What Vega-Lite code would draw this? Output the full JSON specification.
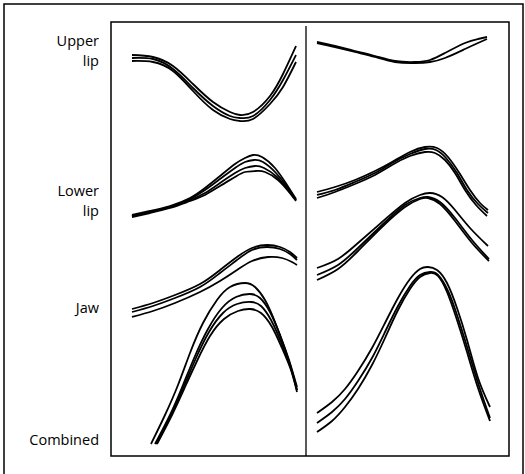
{
  "$schema": "https://vega.github.io/schema/vega-lite/v6.json",
  "width": 521,
  "height": 470,
  "autosize": "none",
  "padding": {"left": 4, "top": 4, "right": 0, "bottom": 0},
  "background": "white",
  "config": {"view": {"stroke": null}},
  "datasets": {
    "frames": [
      {"box": "outer", "t": -107, "t2": 412, "d": 452, "d2": -30},
      {"box": "inner", "t": 0, "t2": 398, "d": 434, "d2": 0}
    ],
    "divider": [{"t": 195, "d": 0, "d2": 430}],
    "labels": [
      {"label": "Upper", "t": -12, "d": 414},
      {"label": "lip", "t": -12, "d": 394},
      {"label": "Lower", "t": -12, "d": 264},
      {"label": "lip", "t": -12, "d": 244},
      {"label": "Jaw", "t": -12, "d": 147},
      {"label": "Combined", "t": -12, "d": 15}
    ],
    "curves": [
      {"c":"LU1","t":21,"d":401},{"c":"LU1","t":42,"d":399},{"c":"LU1","t":62,"d":390},{"c":"LU1","t":82,"d":372},{"c":"LU1","t":102,"d":354},{"c":"LU1","t":119,"d":344},{"c":"LU1","t":129,"d":341},{"c":"LU1","t":142,"d":344},{"c":"LU1","t":159,"d":360},{"c":"LU1","t":172,"d":382},{"c":"LU1","t":185,"d":410},
      {"c":"LU2","t":21,"d":398},{"c":"LU2","t":42,"d":397},{"c":"LU2","t":62,"d":387},{"c":"LU2","t":82,"d":368},{"c":"LU2","t":102,"d":350},{"c":"LU2","t":119,"d":340},{"c":"LU2","t":129,"d":338},{"c":"LU2","t":142,"d":340},{"c":"LU2","t":159,"d":356},{"c":"LU2","t":172,"d":376},{"c":"LU2","t":185,"d":401},
      {"c":"LU3","t":21,"d":395},{"c":"LU3","t":42,"d":394},{"c":"LU3","t":62,"d":385},{"c":"LU3","t":82,"d":365},{"c":"LU3","t":102,"d":346},{"c":"LU3","t":119,"d":337},{"c":"LU3","t":129,"d":335},{"c":"LU3","t":142,"d":337},{"c":"LU3","t":159,"d":352},{"c":"LU3","t":172,"d":369},{"c":"LU3","t":185,"d":394},
      {"c":"LL1","t":21,"d":241},{"c":"LL1","t":39,"d":245},{"c":"LL1","t":59,"d":250},{"c":"LL1","t":79,"d":258},{"c":"LL1","t":94,"d":268},{"c":"LL1","t":109,"d":280},{"c":"LL1","t":124,"d":292},{"c":"LL1","t":134,"d":298},{"c":"LL1","t":142,"d":301},{"c":"LL1","t":151,"d":299},{"c":"LL1","t":164,"d":288},{"c":"LL1","t":176,"d":271},{"c":"LL1","t":185,"d":257},
      {"c":"LL2","t":21,"d":240},{"c":"LL2","t":39,"d":244},{"c":"LL2","t":59,"d":249},{"c":"LL2","t":79,"d":257},{"c":"LL2","t":94,"d":266},{"c":"LL2","t":109,"d":277},{"c":"LL2","t":124,"d":288},{"c":"LL2","t":134,"d":294},{"c":"LL2","t":143,"d":296},{"c":"LL2","t":152,"d":294},{"c":"LL2","t":165,"d":283},{"c":"LL2","t":177,"d":268},{"c":"LL2","t":185,"d":256},
      {"c":"LL3","t":21,"d":240},{"c":"LL3","t":39,"d":244},{"c":"LL3","t":59,"d":249},{"c":"LL3","t":79,"d":256},{"c":"LL3","t":94,"d":263},{"c":"LL3","t":109,"d":273},{"c":"LL3","t":124,"d":283},{"c":"LL3","t":134,"d":288},{"c":"LL3","t":144,"d":290},{"c":"LL3","t":153,"d":288},{"c":"LL3","t":166,"d":279},{"c":"LL3","t":177,"d":266},{"c":"LL3","t":185,"d":256},
      {"c":"LL4","t":21,"d":239},{"c":"LL4","t":39,"d":243},{"c":"LL4","t":59,"d":248},{"c":"LL4","t":79,"d":255},{"c":"LL4","t":94,"d":261},{"c":"LL4","t":109,"d":270},{"c":"LL4","t":124,"d":279},{"c":"LL4","t":134,"d":284},{"c":"LL4","t":145,"d":285},{"c":"LL4","t":154,"d":284},{"c":"LL4","t":167,"d":276},{"c":"LL4","t":178,"d":264},{"c":"LL4","t":185,"d":255},
      {"c":"LJ1","t":21,"d":147},{"c":"LJ1","t":42,"d":153},{"c":"LJ1","t":64,"d":161},{"c":"LJ1","t":89,"d":172},{"c":"LJ1","t":109,"d":186},{"c":"LJ1","t":126,"d":199},{"c":"LJ1","t":141,"d":208},{"c":"LJ1","t":156,"d":211},{"c":"LJ1","t":169,"d":209},{"c":"LJ1","t":179,"d":204},{"c":"LJ1","t":186,"d":198},
      {"c":"LJ2","t":21,"d":144},{"c":"LJ2","t":42,"d":150},{"c":"LJ2","t":64,"d":158},{"c":"LJ2","t":89,"d":169},{"c":"LJ2","t":109,"d":183},{"c":"LJ2","t":126,"d":196},{"c":"LJ2","t":141,"d":206},{"c":"LJ2","t":156,"d":209},{"c":"LJ2","t":169,"d":207},{"c":"LJ2","t":179,"d":202},{"c":"LJ2","t":186,"d":196},
      {"c":"LJ3","t":21,"d":139},{"c":"LJ3","t":42,"d":145},{"c":"LJ3","t":64,"d":153},{"c":"LJ3","t":89,"d":164},{"c":"LJ3","t":109,"d":175},{"c":"LJ3","t":126,"d":186},{"c":"LJ3","t":141,"d":195},{"c":"LJ3","t":157,"d":199},{"c":"LJ3","t":171,"d":198},{"c":"LJ3","t":181,"d":194},{"c":"LJ3","t":186,"d":191},
      {"c":"LC1","t":40,"d":12},{"c":"LC1","t":54,"d":41},{"c":"LC1","t":67,"d":71},{"c":"LC1","t":79,"d":103},{"c":"LC1","t":92,"d":133},{"c":"LC1","t":106,"d":156},{"c":"LC1","t":119,"d":169},{"c":"LC1","t":134,"d":173},{"c":"LC1","t":144,"d":169},{"c":"LC1","t":154,"d":156},{"c":"LC1","t":164,"d":134},{"c":"LC1","t":174,"d":107},{"c":"LC1","t":181,"d":85},{"c":"LC1","t":186,"d":66},
      {"c":"LC2","t":44,"d":12},{"c":"LC2","t":59,"d":41},{"c":"LC2","t":72,"d":71},{"c":"LC2","t":84,"d":100},{"c":"LC2","t":97,"d":127},{"c":"LC2","t":111,"d":148},{"c":"LC2","t":125,"d":159},{"c":"LC2","t":139,"d":162},{"c":"LC2","t":149,"d":158},{"c":"LC2","t":159,"d":144},{"c":"LC2","t":169,"d":121},{"c":"LC2","t":178,"d":96},{"c":"LC2","t":186,"d":69},
      {"c":"LC3","t":45,"d":12},{"c":"LC3","t":60,"d":41},{"c":"LC3","t":73,"d":70},{"c":"LC3","t":85,"d":98},{"c":"LC3","t":98,"d":124},{"c":"LC3","t":112,"d":143},{"c":"LC3","t":126,"d":152},{"c":"LC3","t":140,"d":154},{"c":"LC3","t":150,"d":150},{"c":"LC3","t":160,"d":136},{"c":"LC3","t":170,"d":114},{"c":"LC3","t":179,"d":90},{"c":"LC3","t":186,"d":66},
      {"c":"LC4","t":46,"d":12},{"c":"LC4","t":61,"d":41},{"c":"LC4","t":74,"d":69},{"c":"LC4","t":86,"d":95},{"c":"LC4","t":99,"d":120},{"c":"LC4","t":113,"d":137},{"c":"LC4","t":127,"d":145},{"c":"LC4","t":139,"d":147},{"c":"LC4","t":150,"d":143},{"c":"LC4","t":161,"d":129},{"c":"LC4","t":171,"d":108},{"c":"LC4","t":180,"d":86},{"c":"LC4","t":186,"d":64},
      {"c":"RU1","t":206,"d":414},{"c":"RU1","t":224,"d":410},{"c":"RU1","t":244,"d":405},{"c":"RU1","t":264,"d":400},{"c":"RU1","t":284,"d":395},{"c":"RU1","t":304,"d":394},{"c":"RU1","t":319,"d":396},{"c":"RU1","t":334,"d":403},{"c":"RU1","t":354,"d":413},{"c":"RU1","t":367,"d":417},{"c":"RU1","t":376,"d":419},
      {"c":"RU2","t":206,"d":413},{"c":"RU2","t":224,"d":409},{"c":"RU2","t":244,"d":404},{"c":"RU2","t":264,"d":399},{"c":"RU2","t":284,"d":394},{"c":"RU2","t":304,"d":393},{"c":"RU2","t":319,"d":394},{"c":"RU2","t":334,"d":398},{"c":"RU2","t":354,"d":407},{"c":"RU2","t":367,"d":413},{"c":"RU2","t":376,"d":417},
      {"c":"RL1","t":206,"d":264},{"c":"RL1","t":224,"d":269},{"c":"RL1","t":244,"d":276},{"c":"RL1","t":264,"d":285},{"c":"RL1","t":281,"d":294},{"c":"RL1","t":299,"d":304},{"c":"RL1","t":314,"d":309},{"c":"RL1","t":326,"d":308},{"c":"RL1","t":337,"d":299},{"c":"RL1","t":349,"d":282},{"c":"RL1","t":359,"d":266},{"c":"RL1","t":369,"d":253},{"c":"RL1","t":377,"d":246},
      {"c":"RL2","t":206,"d":258},{"c":"RL2","t":224,"d":264},{"c":"RL2","t":244,"d":272},{"c":"RL2","t":264,"d":281},{"c":"RL2","t":281,"d":291},{"c":"RL2","t":299,"d":300},{"c":"RL2","t":314,"d":304},{"c":"RL2","t":324,"d":303},{"c":"RL2","t":334,"d":296},{"c":"RL2","t":344,"d":283},{"c":"RL2","t":354,"d":266},{"c":"RL2","t":365,"d":251},{"c":"RL2","t":376,"d":240},
      {"c":"RL3","t":206,"d":261},{"c":"RL3","t":224,"d":266},{"c":"RL3","t":244,"d":274},{"c":"RL3","t":264,"d":283},{"c":"RL3","t":281,"d":293},{"c":"RL3","t":299,"d":302},{"c":"RL3","t":314,"d":307},{"c":"RL3","t":325,"d":306},{"c":"RL3","t":335,"d":298},{"c":"RL3","t":346,"d":283},{"c":"RL3","t":356,"d":266},{"c":"RL3","t":367,"d":252},{"c":"RL3","t":377,"d":243},
      {"c":"RJ1","t":206,"d":188},{"c":"RJ1","t":227,"d":197},{"c":"RJ1","t":247,"d":213},{"c":"RJ1","t":271,"d":234},{"c":"RJ1","t":294,"d":253},{"c":"RJ1","t":309,"d":261},{"c":"RJ1","t":319,"d":263},{"c":"RJ1","t":331,"d":259},{"c":"RJ1","t":344,"d":246},{"c":"RJ1","t":359,"d":228},{"c":"RJ1","t":377,"d":210},
      {"c":"RJ2","t":206,"d":181},{"c":"RJ2","t":227,"d":191},{"c":"RJ2","t":247,"d":208},{"c":"RJ2","t":271,"d":231},{"c":"RJ2","t":294,"d":251},{"c":"RJ2","t":309,"d":258},{"c":"RJ2","t":317,"d":259},{"c":"RJ2","t":329,"d":254},{"c":"RJ2","t":344,"d":238},{"c":"RJ2","t":361,"d":216},{"c":"RJ2","t":378,"d":197},
      {"c":"RJ3","t":206,"d":176},{"c":"RJ3","t":227,"d":187},{"c":"RJ3","t":247,"d":205},{"c":"RJ3","t":271,"d":229},{"c":"RJ3","t":294,"d":249},{"c":"RJ3","t":309,"d":257},{"c":"RJ3","t":317,"d":258},{"c":"RJ3","t":329,"d":252},{"c":"RJ3","t":344,"d":235},{"c":"RJ3","t":361,"d":213},{"c":"RJ3","t":378,"d":195},
      {"c":"RC1","t":206,"d":43},{"c":"RC1","t":221,"d":54},{"c":"RC1","t":234,"d":67},{"c":"RC1","t":247,"d":85},{"c":"RC1","t":261,"d":108},{"c":"RC1","t":274,"d":133},{"c":"RC1","t":287,"d":158},{"c":"RC1","t":299,"d":177},{"c":"RC1","t":309,"d":187},{"c":"RC1","t":317,"d":189},{"c":"RC1","t":326,"d":186},{"c":"RC1","t":336,"d":173},{"c":"RC1","t":346,"d":148},{"c":"RC1","t":356,"d":116},{"c":"RC1","t":367,"d":78},{"c":"RC1","t":379,"d":49},
      {"c":"RC2","t":206,"d":33},{"c":"RC2","t":221,"d":44},{"c":"RC2","t":234,"d":57},{"c":"RC2","t":247,"d":75},{"c":"RC2","t":261,"d":98},{"c":"RC2","t":274,"d":124},{"c":"RC2","t":287,"d":150},{"c":"RC2","t":299,"d":170},{"c":"RC2","t":309,"d":181},{"c":"RC2","t":319,"d":184},{"c":"RC2","t":327,"d":181},{"c":"RC2","t":337,"d":165},{"c":"RC2","t":347,"d":138},{"c":"RC2","t":357,"d":106},{"c":"RC2","t":368,"d":70},{"c":"RC2","t":379,"d":38},
      {"c":"RC3","t":206,"d":24},{"c":"RC3","t":221,"d":35},{"c":"RC3","t":234,"d":49},{"c":"RC3","t":247,"d":67},{"c":"RC3","t":261,"d":91},{"c":"RC3","t":274,"d":118},{"c":"RC3","t":287,"d":146},{"c":"RC3","t":299,"d":167},{"c":"RC3","t":309,"d":179},{"c":"RC3","t":319,"d":183},{"c":"RC3","t":327,"d":180},{"c":"RC3","t":336,"d":164},{"c":"RC3","t":346,"d":136},{"c":"RC3","t":356,"d":104},{"c":"RC3","t":367,"d":68},{"c":"RC3","t":379,"d":35}
    ]
  },
  "encoding": {
    "x": {"field": "t", "type": "quantitative", "scale": {"domain": [-107, 414], "nice": false, "zero": false}, "axis": null},
    "y": {"field": "d", "type": "quantitative", "scale": {"domain": [-18, 452], "nice": false, "zero": false}, "axis": null}
  },
  "layer": [
    {
      "data": {"name": "frames"},
      "mark": {"type": "rect", "filled": false, "stroke": "black", "strokeWidth": 1.5, "clip": false},
      "encoding": {"x2": {"field": "t2"}, "y2": {"field": "d2"}}
    },
    {
      "data": {"name": "divider"},
      "mark": {"type": "rule", "stroke": "black", "strokeWidth": 1.3},
      "encoding": {"y2": {"field": "d2"}}
    },
    {
      "data": {"name": "curves"},
      "mark": {"type": "line", "interpolate": "natural", "stroke": "black", "strokeWidth": 1.8},
      "encoding": {"detail": {"field": "c", "type": "nominal"}}
    },
    {
      "data": {"name": "labels"},
      "mark": {"type": "text", "align": "right", "baseline": "middle", "font": "Open Sans", "fontSize": 14.5, "color": "black"},
      "encoding": {"text": {"field": "label", "type": "nominal"}}
    }
  ]
}
